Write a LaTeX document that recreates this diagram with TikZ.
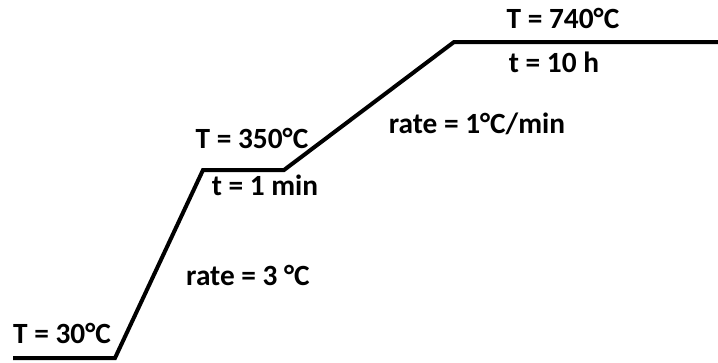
\documentclass[tikz,border=0pt]{standalone}
\usepackage{fontspec}
\setmainfont{Carlito}
\usetikzlibrary{positioning}
\tikzset{
  profile/.style={line width=3pt,line join=miter},
  lbl/.style={anchor=base,inner sep=0pt,font=\fontsize{22}{24}\selectfont\bfseries}
}

\begin{document}
\begin{tikzpicture}[x=0.75pt,y=-0.75pt]
    \useasboundingbox (0,0) rectangle (718,362);
    % heating profile
    \coordinate (start) at (13,358);
    \coordinate (rampa) at (115,358);
    \coordinate (holda) at (203,170);
    \coordinate (rampb) at (284,170);
    \coordinate (holdb) at (454,42);
    \coordinate (stop) at (718,42);
    \draw[profile] (start) -- (rampa) -- (holda) -- (rampb) -- (holdb) -- (stop);
    % labels
    \node[lbl] (troom) at (62,343) {T = 30°C};
    \node[lbl] (rateone) at (248,285) {rate = 3 °C};
    \node[lbl] (tmid) at (252,148) {T = 350°C};
    \node[lbl] (timemid) at (265,195) {t = 1 min};
    \node[lbl] (ratetwo) at (477,133) {rate = 1°C/min};
    \node[lbl] (ttop) at (563,28) {T = 740°C};
    \node[lbl] (timetop) at (554,72) {t = 10 h};
  \end{tikzpicture}
\end{document}
